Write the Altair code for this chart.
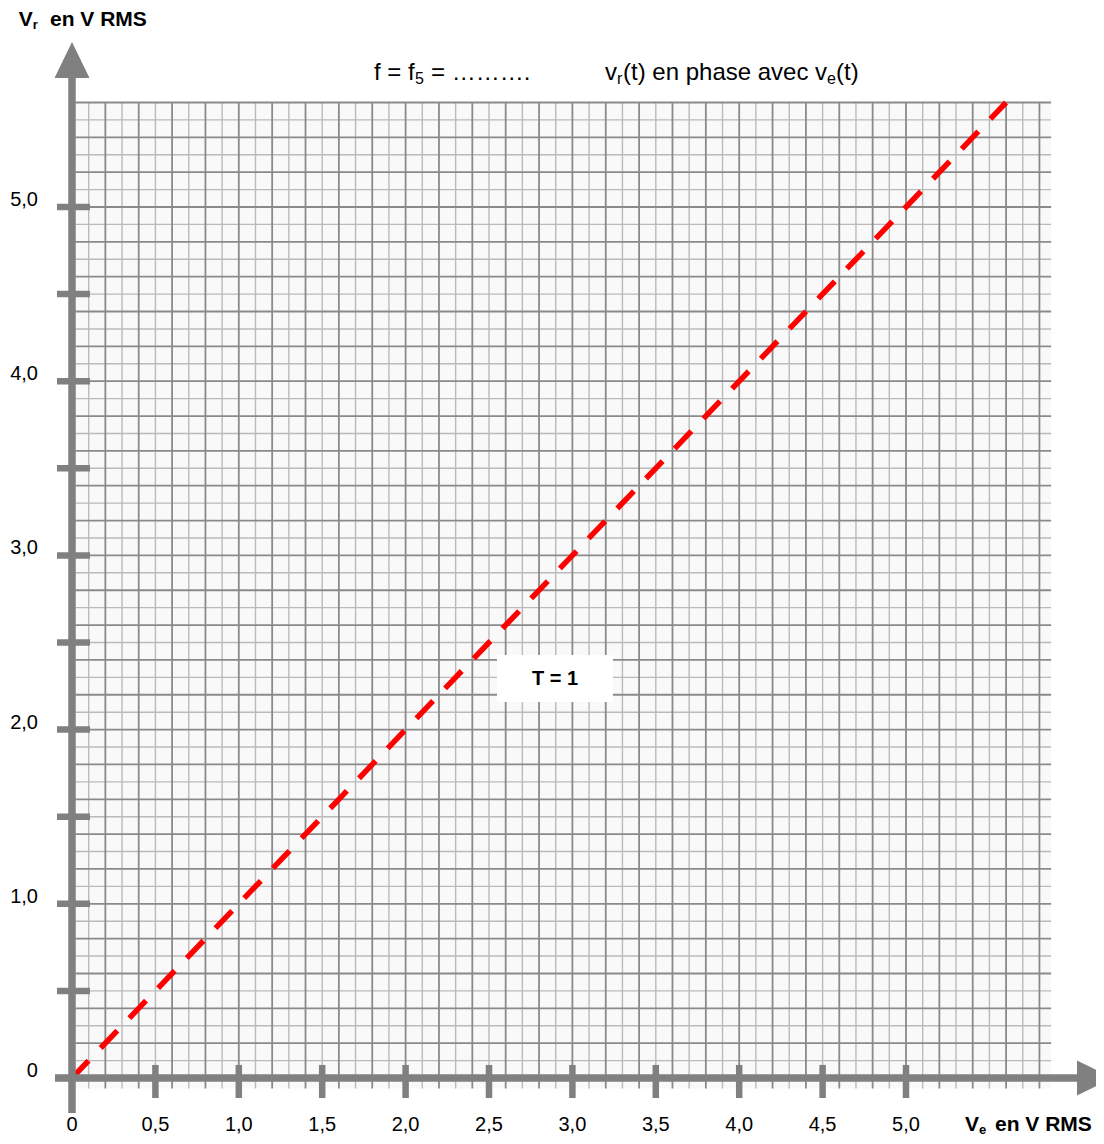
import altair as alt
import pandas as pd

# ---------------- data ----------------
x_tick_values = [0.5, 1.0, 1.5, 2.0, 2.5, 3.0, 3.5, 4.0, 4.5, 5.0]
x_tick_labels = ["0,5", "1,0", "1,5", "2,0", "2,5", "3,0", "3,5", "4,0", "4,5", "5,0"]
y_tick_values = [0.5, 1.0, 1.5, 2.0, 2.5, 3.0, 3.5, 4.0, 4.5, 5.0]
y_label_values = [0.0, 1.0, 2.0, 3.0, 4.0, 5.0]
y_label_texts = ["0", "1,0", "2,0", "3,0", "4,0", "5,0"]
ve_values = [0.0, 5.6]
vr_values = [0.0, 5.6]

# ---------------- layout (pixel mapping of the scanned sheet) ----------------
W, H = 1088, 1128
OX, OY = 72 - 8, 1078 - 8       # origin inside the svg
SX, SY = 166.8, 174.2           # px per volt
XMIN, XMAX = (0 - OX) / SX, (W - OX) / SX
YMIN, YMAX = (OY - H) / SY, OY / SY

xs = alt.Scale(domain=[XMIN, XMAX], nice=False, zero=False)
ys = alt.Scale(domain=[YMIN, YMAX], nice=False, zero=False)

GRAY = "#808080"
FONT = "Liberation Sans"
BOTTOM_TEXT_Y = -0.2698


def X(f="x"):
    return alt.X(f"{f}:Q", scale=xs, axis=None)


def Y(f="y"):
    return alt.Y(f"{f}:Q", scale=ys, axis=None)


# graph paper
PAPER_X = [0.02, 5.87]
PAPER_Y = [-0.06, 5.6]
paper = alt.Chart(pd.DataFrame({"x": [PAPER_X[0]], "x2": [PAPER_X[1]],
                                "y": [PAPER_Y[0]], "y2": [PAPER_Y[1]]})).mark_rect(
    color="#f9f9f9").encode(x=X(), x2="x2:Q", y=Y(), y2="y2:Q")

grid = []
for major, col, sw in [(False, "#bababa", 1.4), (True, "#8a8a8a", 1.8)]:
    vx = [i / 10 for i in range(1, 59) if (i % 2 == 0) == major]
    hy = [i / 10 for i in range(1, 57) if (i % 2 == 0) == major]
    vdf = pd.DataFrame({"x": vx, "y": [PAPER_Y[0]] * len(vx), "y2": [PAPER_Y[1]] * len(vx)})
    hdf = pd.DataFrame({"y": hy, "x": [PAPER_X[0]] * len(hy), "x2": [PAPER_X[1]] * len(hy)})
    grid.append(alt.Chart(vdf).mark_rule(color=col, strokeWidth=sw).encode(
        x=X(), y=Y(), y2="y2:Q"))
    grid.append(alt.Chart(hdf).mark_rule(color=col, strokeWidth=sw).encode(
        y=Y(), x=X(), x2="x2:Q"))

# axes
axes_df = pd.DataFrame({"x": [0.0, -0.102], "x2": [0.0, 6.03],
                        "y": [-0.201, 0.0], "y2": [5.75, 0.0]})
axes = alt.Chart(axes_df).mark_rule(color=GRAY, strokeWidth=7.5).encode(
    x=X(), x2="x2:Q", y=Y(), y2="y2:Q")

# ticks
n = len(x_tick_values)
xt = alt.Chart(pd.DataFrame({"x": x_tick_values, "y": [0.075] * n, "y2": [-0.115] * n})).mark_rule(
    color=GRAY, strokeWidth=6.5).encode(x=X(), y=Y(), y2="y2:Q")
m = len(y_tick_values)
yt = alt.Chart(pd.DataFrame({"y": y_tick_values, "x": [-0.09] * m, "x2": [0.108] * m})).mark_rule(
    color=GRAY, strokeWidth=6.5).encode(y=Y(), x=X(), x2="x2:Q")

# arrow heads
up = alt.Chart(pd.DataFrame({"x": [0.0], "y": [5.844]})).mark_point(
    shape="M0,-1L0.97,1L-0.97,1Z", size=1296, filled=True, opacity=1,
    color=GRAY, strokeWidth=0).encode(x=X(), y=Y())
right = alt.Chart(pd.DataFrame({"x": [6.133], "y": [0.0]})).mark_point(
    shape="M1,0L-1,0.97L-1,-0.97Z", size=1296, filled=True, opacity=1,
    color=GRAY, strokeWidth=0).encode(x=X(), y=Y())

# T = 1 line
line = alt.Chart(pd.DataFrame({"x": ve_values, "y": vr_values})).mark_line(
    color="#ff0000", strokeWidth=5.5, strokeDash=[24, 17.5], strokeCap="butt").encode(
    x=X(), y=Y())

# tick labels
xl_df = pd.DataFrame({"x": [0.0] + x_tick_values, "t": ["0"] + x_tick_labels})
xl_df["y"] = BOTTOM_TEXT_Y
xl = alt.Chart(xl_df).mark_text(
    font=FONT, fontSize=20, color="#000", align="center", baseline="middle").encode(
    x=X(), y=Y(), text="t:N")
yl_df = pd.DataFrame({"y": y_label_values, "t": y_label_texts})
yl_df["x"] = -0.204
yl = alt.Chart(yl_df).mark_text(
    font=FONT, fontSize=20, color="#000", align="right", baseline="middle", dy=-7).encode(
    y=Y(), x=X(), text="t:N")

# box for T = 1
box = alt.Chart(pd.DataFrame({"x": [2.548], "x2": [3.243], "y": [2.158], "y2": [2.428]})).mark_rect(
    color="white").encode(x=X(), x2="x2:Q", y=Y(), y2="y2:Q")


def texts(rows, size, weight):
    df = pd.DataFrame(rows, columns=["x", "y", "t"])
    return alt.Chart(df).mark_text(font=FONT, fontSize=size, fontWeight=weight,
                                   color="#000", align="left", baseline="middle").encode(
        x=X(), y=Y(), text="t:N")

titles_bold = texts([(-0.319, 6.0735, "V"), (-0.132, 6.0735, "en V RMS"),
                     (5.3537, BOTTOM_TEXT_Y, "V"), (5.5336, BOTTOM_TEXT_Y, "en V RMS")], 21, "bold")
subs_bold = texts([(-0.235, 6.047, "r"), (5.437, BOTTOM_TEXT_Y - 0.026, "e")], 13, "bold")
top_text = texts([(1.8106, 5.7692, "f = f"), (2.1523, 5.7692, "= ………."),
                  (3.1954, 5.7692, "v"), (3.3034, 5.7692, "(t) en phase avec v"),
                  (4.5803, 5.7692, "(t)")], 24, "normal")
top_subs = texts([(2.0564, 5.7348, "5"), (3.2674, 5.7348, "r"), (4.5264, 5.7348, "e")], 16, "normal")
tlabel = alt.Chart(pd.DataFrame({"x": [2.8957], "y": [2.2905], "t": ["T = 1"]})).mark_text(
    font=FONT, fontSize=20, fontWeight="bold", color="#000", align="center",
    baseline="middle").encode(x=X(), y=Y(), text="t:N")

chart = alt.layer(
    paper, *grid, line, box, tlabel, axes, xt, yt, up, right,
    xl, yl, titles_bold, subs_bold, top_text, top_subs
).properties(
    width=W, height=H, autosize=alt.AutoSizeParams(type="none"), padding=0,
    background="white"
).configure_view(strokeWidth=0)

chart.save("out.html", embed_options={"renderer": "svg", "actions": False})
